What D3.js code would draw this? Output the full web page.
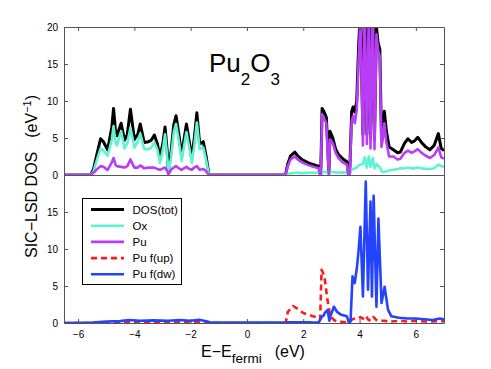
<!DOCTYPE html>
<html><head><meta charset="utf-8">
<script src="https://cdn.jsdelivr.net/npm/d3@7"></script>
<style>body{margin:0;background:#fff}svg{display:block;font-family:"Liberation Sans",Arial,Helvetica,sans-serif}</style>
</head><body><svg id="c" width="491" height="369"></svg>
<script>
// ---- data ----
const energyTop = [-6.5,-5.55,-5.45,-5.35,-5.2,-5.1,-4.95,-4.8,-4.74,-4.66,-4.62,-4.47,-4.35,-4.25,-4.14,-4.0,-3.88,-3.79,-3.65,-3.5,-3.4,-3.29,-3.18,-3.09,-2.98,-2.91,-2.84,-2.79,-2.7,-2.6,-2.52,-2.42,-2.32,-2.24,-2.15,-2.05,-1.96,-1.87,-1.78,-1.68,-1.55,-1.45,-1.35,
  1.37,1.45,1.55,1.7,1.8,1.95,2.2,2.45,2.55,2.6,2.62,2.67,2.73,2.82,2.88,2.91,2.95,3.05,3.15,3.25,3.4,3.55,3.6,3.65,3.72,3.77,3.83,
  3.9,3.97,4.03,4.12,4.18,4.26,4.33,4.39,4.47,4.53,4.6,4.66,4.72,4.78,4.83,4.88,4.95,
  5.05,5.2,5.35,5.45,5.6,5.72,5.85,5.95,6.07,6.2,6.35,6.5,6.65,6.8,6.9,7.0];
const dosTot = [0,0,0.8,2.5,4.9,4.5,3.4,6.5,9.0,5.5,5.3,7.0,4.7,5.5,8.9,4.8,5.5,6.9,4.4,4.5,4.7,5.4,4.2,2.3,4.5,6.5,3.5,0.5,3.0,6.8,8.0,5.5,2.6,4.7,6.9,4.5,2.3,5.0,8.4,4.2,4.5,2.5,0,
  0,1.5,2.6,3.1,2.6,2.1,1.6,1.3,1.2,0,0,9.0,8.6,7.8,3.0,0.2,5.9,5.0,3.5,2.8,2.2,1.8,0.2,0.3,8.6,9.2,8.5,
  10.0,17.7,22,5.5,25,5.5,25,5.0,26,4.8,20,17.8,17.0,4.8,6.5,8.6,6.0,
  3.8,3.4,3.0,3.1,4.3,4.9,4.4,4.6,5.1,4.4,3.8,3.4,4.0,5.6,3.6,3.3];
const dosOx = [0,0,0.5,1.8,3.6,3.3,2.6,4.8,6.6,4.2,4.0,5.9,3.6,4.3,6.4,3.7,4.5,5.6,3.5,3.5,3.7,4.4,3.4,1.6,3.6,5.5,2.8,0.3,2.3,5.8,6.9,4.6,1.9,3.8,5.8,3.7,1.6,4.0,7.1,3.5,3.7,2.0,0,
  0,0.2,0.2,0.3,0.3,0.25,0.3,0.3,0.3,0,0,0.5,0.4,0.4,0.3,0.1,0.4,0.4,0.35,0.3,0.35,0.3,0.1,0.1,0.8,0.8,0.9,
  1.0,1.3,1.4,1.5,2.4,1.0,2.5,1.1,2.3,0.9,1.5,1.2,1.1,0.5,0.4,0.4,0.5,
  0.6,0.7,0.8,0.9,0.9,1.0,0.9,0.9,1.0,0.9,0.85,0.8,0.9,1.4,1.2,1.1];
const dosPu = [0,0,0.3,0.7,1.2,1.1,0.7,1.7,2.3,1.3,1.2,1.1,1.0,1.2,2.1,1.0,1.0,1.3,0.9,1.0,1.0,1.0,0.8,0.7,0.9,1.0,0.6,0.1,0.7,1.0,1.2,0.9,0.7,0.9,1.1,0.8,0.7,1.0,1.2,0.7,0.8,0.5,0,
  0,1.2,2.1,2.5,2.1,1.7,1.3,1.0,0.9,0,0,8.2,7.7,7.0,2.0,0.1,4.8,4.3,3.0,2.3,1.7,1.4,0,0.1,7.3,8.0,7.0,
  8.8,16.0,21,4.0,23,4.2,23,3.6,24,3.5,19,16.8,16.0,3.8,5.0,7.0,4.5,
  2.5,2.5,2.1,2.2,3.0,3.3,3.0,3.2,3.5,3.0,2.6,2.3,2.7,3.7,2.4,2.2];

const energyBot = [-6.5,-5.5,-5.0,-4.5,-4.2,-3.8,-3.3,-2.8,-2.4,-2.0,-1.7,-1.4,-1.3,1.3,1.38,1.45,1.64,1.85,2.0,2.2,2.35,2.55,2.6,2.65,2.72,2.77,2.86,2.93,2.97,3.09,3.2,3.35,3.55,3.62,3.68,3.75,3.83,3.91,3.97,4.03,4.12,4.22,4.3,4.39,4.44,4.5,4.6,4.67,4.78,4.89,5.01,5.13,5.4,5.7,6.0,6.3,6.6,6.85,7.0];
const puFup = [0,0,0.1,0.1,0.15,0.1,0.1,0.15,0.1,0.1,0.15,0.05,0,0,0.1,1.5,2.3,1.8,1.35,1.1,0.9,0.7,0.5,7.2,6.6,5.8,3.1,1.5,0.9,0.4,0.2,0.15,0.1,0.1,0.3,0.5,0.6,0.6,0.7,0.8,0.6,1.0,0.5,0.3,0.6,0.8,0.4,0.3,0.3,0.3,0.2,0.2,0.3,0.2,0.3,0.2,0.2,0.25,0.25];
const puFdw = [0,0.05,0.2,0.25,0.4,0.3,0.35,0.3,0.4,0.3,0.45,0.2,0.05,0.05,0.05,0.1,0.1,0.1,0.1,0.1,0.05,0.1,0.4,0.8,1.0,1.4,1.75,0.3,1.0,2.2,1.5,1.1,0.9,0.1,0.2,6.3,5.4,7.6,10.0,13.0,3.6,19.1,4.5,16.4,3.6,17.2,2.2,14.1,2.7,4.9,1.8,0.9,0.7,0.6,0.6,0.5,0.4,0.6,0.5];

const xTicks = [-6,-4,-2,0,2,4,6];
const yTicksTop = [0,5,10,15,20];
const yTicksBot = [0,5,10,15];
const legendLabels = ["DOS(tot)","Ox","Pu","Pu f(up)","Pu f(dw)"];

// ---- layout ----
const svg = d3.select("#c");
const L=64,R=444,T=27,M=175,B=323;
const x = d3.scaleLinear().domain([-6.5,7]).range([L,R]);
const yT = d3.scaleLinear().domain([0,20]).range([M,T]);
const yB = d3.scaleLinear().domain([0,20]).range([B,M]);
const fmt = d => d3.format("")(d);
const axisColor = "#555";

const defs = svg.append("defs");
defs.append("clipPath").attr("id","cT").append("rect").attr("x",L).attr("y",T).attr("width",R-L).attr("height",M-T);
defs.append("clipPath").attr("id","cB").append("rect").attr("x",L).attr("y",M).attr("width",R-L).attr("height",B-M);

const styles = [
  {color:"#000000", w:3, dash:null},
  {color:"#5ef3d3", w:2.6, dash:null},
  {color:"#b93cf6", w:2.6, dash:null},
  {color:"#ff1a1a", w:2.6, dash:"6,4"},
  {color:"#2443ff", w:2.6, dash:null}
];

function drawLine(g, xs, ys, yScale, st){
  const data = xs.map((e,i)=>[e, ys[i]]);
  g.append("path").datum(data)
    .attr("fill","none").attr("stroke",st.color).attr("stroke-width",st.w)
    .attr("stroke-linejoin","round").attr("stroke-dasharray",st.dash)
    .attr("d", d3.line().x(d=>x(d[0])).y(d=>yScale(d[1])));
}

const gT = svg.append("g").attr("clip-path","url(#cT)");
drawLine(gT, energyTop, dosTot, yT, styles[0]);
drawLine(gT, energyTop, dosOx, yT, styles[1]);
drawLine(gT, energyTop, dosPu, yT, styles[2]);

const gB = svg.append("g").attr("clip-path","url(#cB)");
drawLine(gB, energyBot, puFup, yB, styles[3]);
drawLine(gB, energyBot, puFdw, yB, styles[4]);

// axes
function styleAxis(g){
  g.select(".domain").attr("stroke",axisColor);
  g.selectAll(".tick line").attr("stroke",axisColor);
  g.selectAll("text").attr("fill","#000").attr("font-size","10px").attr("font-family","Liberation Sans, Arial, sans-serif");
}
// top panel
svg.append("g").attr("transform",`translate(${L},0)`)
  .call(d3.axisLeft(yT).tickValues(yTicksTop).tickFormat(fmt).tickSizeInner(-4).tickSizeOuter(0).tickPadding(6)).call(styleAxis);
svg.append("g").attr("transform",`translate(${R},0)`)
  .call(d3.axisRight(yT).tickValues(yTicksTop).tickFormat("").tickSizeInner(-4).tickSizeOuter(0)).call(styleAxis);
svg.append("g").attr("transform",`translate(0,${T})`)
  .call(d3.axisTop(x).tickValues(xTicks).tickFormat("").tickSizeInner(-4).tickSizeOuter(0)).call(styleAxis);
// bottom panel
svg.append("g").attr("transform",`translate(${L},0)`)
  .call(d3.axisLeft(yB).tickValues(yTicksBot).tickFormat(fmt).tickSizeInner(-4).tickSizeOuter(0).tickPadding(6)).call(styleAxis);
svg.append("g").attr("transform",`translate(${R},0)`)
  .call(d3.axisRight(yB).tickValues(yTicksBot).tickFormat("").tickSizeInner(-4).tickSizeOuter(0)).call(styleAxis);
svg.append("g").attr("transform",`translate(0,${M})`)
  .call(d3.axisBottom(x).tickValues(xTicks).tickFormat("").tickSizeInner(0).tickSizeOuter(0)).call(styleAxis);
svg.append("g").attr("transform",`translate(0,${B})`)
  .call(d3.axisBottom(x).tickValues(xTicks).tickFormat(fmt).tickSizeInner(-4).tickSizeOuter(0).tickPadding(8)).call(styleAxis);

// title
const title = svg.append("text").attr("x",209).attr("y",72).attr("font-size","26px").attr("fill","#000");
title.append("tspan").text("Pu");
title.append("tspan").attr("font-size","17px").attr("dy",13).text("2");
title.append("tspan").attr("dy",-13).text("O");
title.append("tspan").attr("font-size","17px").attr("dy",13).text("3");

// x label
const xl = svg.append("text").attr("x",201).attr("y",357).attr("font-size","16px").attr("fill","#000");
xl.append("tspan").text("E\u2212E");
xl.append("tspan").attr("font-size","13.5px").attr("dy",6).text("fermi");
xl.append("tspan").attr("dy",-6).attr("dx",13).text("(eV)");

// y label
const yl = svg.append("text").attr("transform","translate(36.5,258) rotate(-90)").attr("font-size","16px").attr("fill","#000");
yl.append("tspan").text("SIC\u2212LSD DOS");
yl.append("tspan").attr("dx",14).text("(eV");
yl.append("tspan").attr("font-size","11px").attr("dy",-6).text("\u22121");
yl.append("tspan").attr("dy",6).text(")");

// legend
const lg = svg.append("g");
lg.append("rect").attr("x",82.5).attr("y",198.5).attr("width",99).attr("height",86)
  .attr("fill","#fff").attr("stroke","#000").attr("stroke-width",1);
legendLabels.forEach((lab,i)=>{
  const yy = 209.5 + i*16.2;
  const st = styles[i];
  lg.append("line").attr("x1",91).attr("x2",124).attr("y1",yy).attr("y2",yy)
    .attr("stroke",st.color).attr("stroke-width",st.w).attr("stroke-dasharray",st.dash);
  lg.append("text").attr("x",132.5).attr("y",yy).attr("dy","0.36em").attr("font-size","11.5px").attr("fill","#000").text(lab);
});
</script></body></html>
